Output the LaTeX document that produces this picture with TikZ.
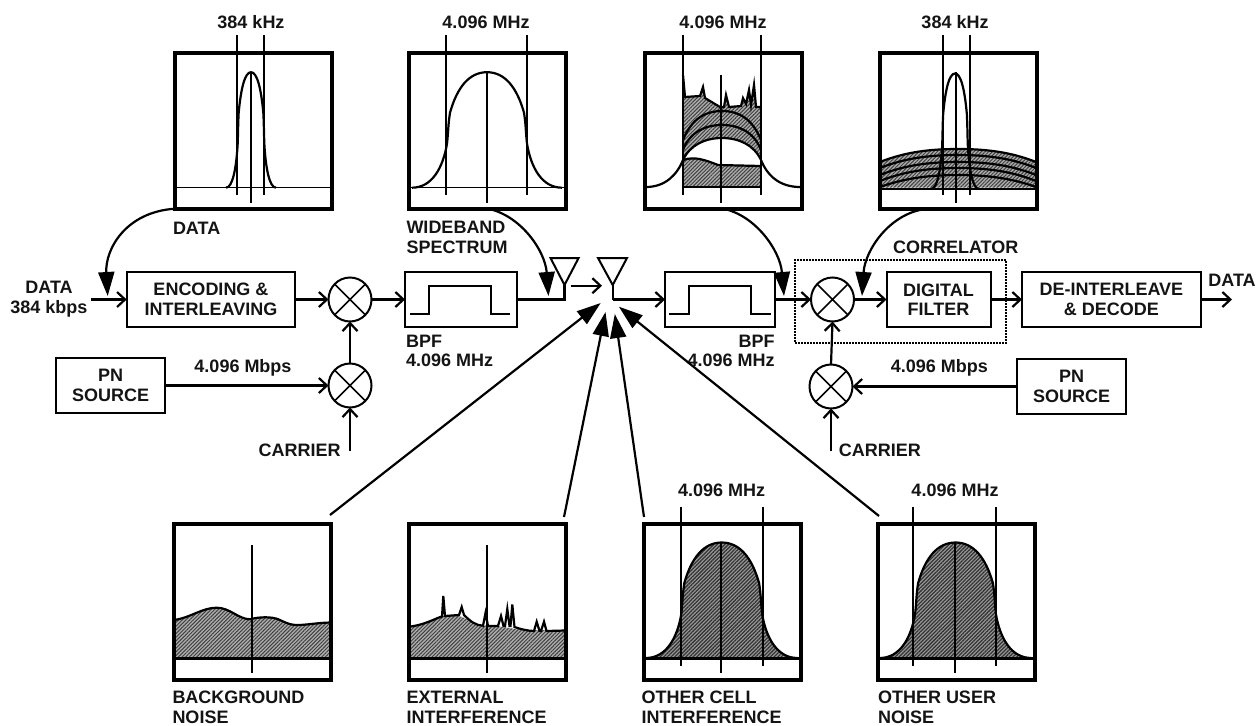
\documentclass[tikz,border=0pt]{standalone}
\usepackage{fontspec}
\setmainfont{Liberation Sans}
\usetikzlibrary{arrows.meta,shapes.geometric,calc,patterns.meta}
\definecolor{noisegray}{gray}{0.68}
\definecolor{densegray}{gray}{0.60}
\newcommand{\bellcurve}{(-75,0) .. controls (-55,0) and (-44,-20) .. (-40,-44)
      .. controls (-38.5,-58) and (-39,-62) .. (-37,-75)
      .. controls (-30,-100) and (-18,-115.5) .. (0,-115.5)
      .. controls (18,-115.5) and (30,-100) .. (37,-75)
      .. controls (39,-62) and (38.5,-58) .. (40,-44)
      .. controls (44,-20) and (55,0) .. (75,0)}
\tikzset{
  x=1pt,y=-1pt,
  lbl/.style={font=\fontsize{18}{19.5}\selectfont\bfseries,inner sep=0pt,outer sep=0pt,text=black!92},
  lblw/.style={lbl,align=left,anchor=west},
  lble/.style={lbl,align=right,anchor=east},
  lblc/.style={lbl,align=center,anchor=center},
  panel/.style={draw,line width=4pt,minimum width=157pt,minimum height=156pt,inner sep=0pt,outer sep=0pt},
  block/.style={draw,line width=2pt,inner sep=0pt,outer sep=0pt,minimum height=55pt},
  mixer/.style={draw,ellipse,line width=2pt,minimum width=43pt,minimum height=44pt,inner sep=0pt,outer sep=0pt},
  crossing/.style={line width=1.7pt},
  wire/.style={line width=2.2pt},
  thin arrow/.style={wire,-{Straight Barb[length=8pt,width=15pt,line width=2.2pt]}},
  big arrow/.style={wire,-{Triangle[length=24pt,width=16pt]}},
  fineline/.style={line width=1.5pt},
  midline/.style={line width=2pt},
  curve/.style={line width=2.2pt},
  hatchlight/.style={preaction={fill=noisegray},pattern={Lines[angle=45,distance=2.6pt,line width=1pt]},pattern color=black!75},
  hatchdark/.style={preaction={fill=densegray},pattern={Lines[angle=45,distance=2.6pt,line width=1.25pt]},pattern color=black!80},
}
\begin{document}
\begin{tikzpicture}
\useasboundingbox (0,0) rectangle (1257,725);

% ---------- fills under the panel frames ----------
% panel 3 hatched region
\path[hatchlight] (683,75) -- (685,97) -- (700,96) -- (703,87) -- (705,98) -- (720,107) -- (724,107) -- (726,95) -- (729,107) -- (741,106) -- (743,98) -- (746,104) -- (749,90) -- (751,105) -- (754,85) -- (756,107) -- (761,107)
  -- (761,160) .. controls (754,145) and (739,138) .. (722,138) .. controls (705,138) and (690,145) .. (683,160) -- cycle;
\path[hatchlight] (683,160) .. controls (695,156) and (705,160) .. (718,165) -- (761,166) -- (761,187) -- (683,187) -- cycle;
% panel 4 hatched region
\path[hatchlight] (880,187.5) -- (880,162) .. controls (905,152) and (930,149) .. (958,149) .. controls (986,149) and (1011,152) .. (1036,162) -- (1036,187.5) -- cycle;
% background noise
\path[hatchlight] (174,658) -- (174,620) .. controls (190,618) and (202,607.7) .. (216.7,607.7) .. controls (230,607.7) and (238,619) .. (250,619.3) .. controls (258,617) and (272,616) .. (280,620) .. controls (288,624) and (292,625) .. (297,625) .. controls (307,625) and (315,623) .. (330,622.5) -- (330,658) -- cycle;
% external interference
\path[hatchlight] (409,658) -- (409,626.7) .. controls (425,625) and (437,615) .. (451.7,615) .. controls (465,615) and (472,625) .. (483,625.7) .. controls (500,625) and (515,630) .. (527,630) -- (565,630.5) -- (565,658) -- cycle;
% other cell, other user
\path[hatchdark,shift={(721.7,658)},xscale=1.01] \bellcurve -- cycle;
\path[hatchdark,shift={(955.5,658)},xscale=1.01] \bellcurve -- cycle;

% ---------- panels ----------
\node[panel] (pdata) at (253.5,130.7) {};
\node[panel] (pwide) at (487.7,130.7) {};
\node[panel] (pmix) at (723,130.7) {};
\node[panel] (pcorr) at (958,130.7) {};
\node[panel] (pback) at (252,601.5) {};
\node[panel] (pext) at (487,601.5) {};
\node[panel] (pcell) at (722,601.5) {};
\node[panel] (puser) at (956.5,601.5) {};

% panel 1: data
\draw[fineline] (175,187.7) -- (332,187.7);
\draw[curve,shift={(251,187.7)},xscale=0.333] \bellcurve;
\draw[midline] (236.7,35) -- (236.7,195) (264.4,35) -- (264.4,195) (251,72) -- (251,203);
% panel 2: wideband spectrum
\draw[fineline] (409,187.7) -- (566,187.7);
\draw[curve,shift={(487,187.7)}] \bellcurve;
\draw[midline] (446.4,35) -- (446.4,195) (526.8,35) -- (526.8,195) (486.6,72) -- (486.6,203);
% panel 3: received spectrum
\draw[curve] (683,75) -- (685,97) -- (700,96) -- (703,87) -- (705,98) -- (720,107) -- (724,107) -- (726,95) -- (729,107) -- (741,106) -- (743,98) -- (746,104) -- (749,90) -- (751,105) -- (754,85) -- (756,107) -- (761,107);
\draw[curve] (683,160) .. controls (695,156) and (705,160) .. (718,165) -- (761,166);
\draw[curve] (646,187) .. controls (665,187) and (677,175) .. (683,160) .. controls (690,145) and (705,138) .. (722,138) .. controls (739,138) and (754,145) .. (761,160) .. controls (767,175) and (779,187) .. (800,187);
\draw[curve] (683,150) .. controls (690,132) and (705,125) .. (722,125) .. controls (739,125) and (754,132) .. (761,150);
\draw[curve] (683,140) .. controls (692,118) and (706,111) .. (722,111) .. controls (738,111) and (752,118) .. (761,140);
\draw[midline] (682.8,35) -- (682.8,195) (760.8,35) -- (760.8,195) (721.2,75) -- (721.2,203) (683,187) -- (761,187);
% panel 4: after correlator
\draw[curve] (880,162) .. controls (905,152) and (930,149) .. (958,149) .. controls (986,149) and (1011,152) .. (1036,162);
\draw[curve] (880,168) .. controls (905,158) and (930,155) .. (958,155) .. controls (986,155) and (1011,158) .. (1036,168);
\draw[curve] (880,175) .. controls (905,165) and (930,162) .. (958,162) .. controls (986,162) and (1011,165) .. (1036,175);
\draw[curve] (880,181) .. controls (905,171) and (930,168) .. (958,168) .. controls (986,168) and (1011,171) .. (1036,181);
\draw[curve] (880,187) .. controls (905,178) and (930,175) .. (958,175) .. controls (986,175) and (1011,178) .. (1036,187);
\draw[midline] (880,189) -- (1036,189);
\draw[curve,shift={(955,189)},xscale=0.32] \bellcurve;
\draw[midline] (942.8,35) -- (942.8,195) (970,35) -- (970,195) (955.5,72) -- (955.5,203);

% panel 5: background noise
\draw[curve] (174,620) .. controls (190,618) and (202,607.7) .. (216.7,607.7) .. controls (230,607.7) and (238,619) .. (250,619.3) .. controls (258,617) and (272,616) .. (280,620) .. controls (288,624) and (292,625) .. (297,625) .. controls (307,625) and (315,623) .. (330,622.5);
\draw[midline,line width=2.6pt] (174,658.5) -- (330,658.5);
\draw[midline] (251.7,545) -- (251.7,673);
% panel 6: external interference
\draw[curve] (409,626.7) .. controls (425,625) and (436,618) .. (442,616.5) -- (443.3,596) -- (445,616) -- (459,615) -- (461.7,607) -- (464,615) .. controls (470,621) and (476,625.7) .. (483,625.7) -- (485.5,613) -- (488,626) -- (498,626) -- (501,616) -- (503.5,626) -- (505,626) -- (507.3,609) -- (509.5,626) -- (510.5,626) -- (512.3,604.5) -- (514.5,627) .. controls (520,629) and (528,631) .. (534,631) -- (536.7,621.7) -- (539.5,631) -- (541,631) -- (544,621.7) -- (546.5,631) -- (565,630.5);
\draw[midline,line width=2.6pt] (409,658.5) -- (565,658.5);
\draw[midline] (487,545) -- (487,673);
% panel 7: other cell interference
\draw[curve,shift={(721.7,658)},xscale=1.01] \bellcurve;
\draw[midline,line width=2.6pt] (644,658.5) -- (800,658.5);
\draw[midline] (680.7,507) -- (680.7,666) (763,507) -- (763,666) (721,543) -- (721,673);
% panel 8: other user noise
\draw[curve,shift={(955.5,658)},xscale=1.01] \bellcurve;
\draw[midline,line width=2.6pt] (879,658.5) -- (1034,658.5);
\draw[midline] (913.3,507) -- (913.3,666) (996,507) -- (996,666) (955,543) -- (955,673);

% ---------- panel labels ----------
\node[lblc] (t1) at (251,22) {384 kHz};
\node[lblc] (t2) at (486,22) {4.096 MHz};
\node[lblc] (t3) at (723,22) {4.096 MHz};
\node[lblc] (t4) at (955,22) {384 kHz};
\node[lblw] (t5) at (173,228) {DATA};
\node[lblw] (t6) at (406.5,237.5) {WIDEBAND\\SPECTRUM};
\node[lblw] (t7) at (893,247) {CORRELATOR};
\node[lblc] (t8) at (721.7,490.7) {4.096 MHz};
\node[lblc] (t9) at (955,490.7) {4.096 MHz};
\node[lblw] (t10) at (172.5,707.5) {BACKGROUND\\NOISE};
\node[lblw] (t11) at (406.5,707.5) {EXTERNAL\\INTERFERENCE};
\node[lblw] (t12) at (641.7,707.5) {OTHER CELL\\INTERFERENCE};
\node[lblw] (t13) at (878,707.5) {OTHER USER\\NOISE};

% ---------- transmit chain ----------
\node[lblc] (datain) at (49,299) {DATA\\384 kbps};
\node[block,minimum width=168.7pt,lblc,draw,line width=2pt,font=\fontsize{18}{19.5}\selectfont\bfseries] (enc) at (211,299.5) {ENCODING \&\\INTERLEAVING};
\node[mixer] (m1) at (350,299.5) {};
\node[mixer] (m2) at (350,385.5) {};
\node[block,minimum width=109.5pt,lblc,draw,line width=2pt] (pn1) at (110.7,385.5) {PN\\SOURCE};
\node[block,minimum width=112pt] (bpf1) at (461,299.5) {};
\node[lblw] (t14) at (406,351) {BPF\\4.096 MHz};
\node[lblc] (t15) at (243,367.7) {4.096 Mbps};
\node[lble] (t16) at (340.7,450) {CARRIER};
\coordinate (c1) at (350,451);
\coordinate (datafrom) at (91,299.5);

% ---------- receive chain ----------
\node[block,minimum width=110pt] (bpf2) at (720,299.5) {};
\node[lble] (t17) at (774.7,351) {BPF\\4.096 MHz};
\node[mixer] (m3) at (832.5,299.5) {};
\node[mixer] (m4) at (831,386.5) {};
\node[block,minimum width=104pt,lblc,draw,line width=2pt] (filt) at (938.5,299.5) {DIGITAL\\FILTER};
\node[block,minimum width=178.8pt,lblc,draw,line width=2pt] (deint) at (1111.4,299.5) {DE-INTERLEAVE\\\& DECODE};
\node[block,minimum width=109pt,lblc,draw,line width=2pt] (pn2) at (1071.5,386.5) {PN\\SOURCE};
\node[lblc] (t18) at (939.4,368) {4.096 Mbps};
\node[lblw] (t19) at (838.8,450) {CARRIER};
\node[lblc] (t20) at (1232,280) {DATA};
\coordinate (c2) at (831,451);
\coordinate (dataout) at (1232,299.5);
\node[draw,densely dotted,line width=2pt,inner sep=0pt,minimum width=211pt,minimum height=82.7pt] (corr) at (900.5,301.3) {};

% crosses in the mixers
\foreach \m in {m1,m2,m3,m4} \draw[crossing] (\m.45) -- (\m.225) (\m.135) -- (\m.315);

% BPF pulses
\draw[midline] (410,314) -- (429,314) -- (429,286) -- (491,286) -- (491,314) -- (510,314);
\draw[midline] (669,314) -- (688.8,314) -- (688.8,286) -- (750.8,286) -- (750.8,314) -- (770.5,314);

% antennas
\coordinate (txfoot) at (564.5,299.5);
\coordinate (rxfoot) at (612.7,299.5);
\coordinate (txapex) at (564.5,285);
\coordinate (rxapex) at (612.7,285);
\draw[midline] (550.5,258) -- (578.6,258) -- (txapex) -- cycle;
\draw[midline] (598,258) -- (627,258) -- (rxapex) -- cycle;
\draw[wire] (bpf1.east) -- (txfoot) -- (txapex);
\draw[wire] (rxapex) -- (rxfoot);
\coordinate (txout) at (570.6,285.7);
\coordinate (rxin) at (602,285.7);

% ---------- small arrows ----------
\draw[thin arrow] (datafrom) -- (enc.west);
\draw[thin arrow] (enc.east) -- (m1.west);
\draw[thin arrow] (m1.east) -- (bpf1.west);
\draw[thin arrow] (m2.north) -- (m1.south);
\draw[thin arrow] (pn1.east) -- (m2.west);
\draw[thin arrow] (c1) -- (m2.south);
\draw[thin arrow] (txout) -- (rxin);
\draw[thin arrow] (rxfoot) -- (bpf2.west);
\draw[thin arrow] (bpf2.east) -- (m3.west);
\draw[thin arrow] (m3.east) -- (filt.west);
\draw[thin arrow] (filt.east) -- (deint.west);
\draw[thin arrow] (deint.east) -- (dataout);
\draw[thin arrow] (m4.north) -- (m3.south);
\draw[thin arrow] (pn2.west) -- (m4.east);
\draw[thin arrow] (c2) -- (m4.south);

% ---------- big arrows ----------
\coordinate (tipa) at (107.7,296);
\coordinate (tipb) at (548.5,296);
\coordinate (tipc) at (784,296);
\coordinate (tipd) at (862,296);
\coordinate (taild) at (926,209);
\draw[big arrow] (pdata.south west) .. controls (125,212) and (105,250) .. (tipa);
\draw[big arrow] (pwide.south) .. controls (520,215) and (545,250) .. (tipb);
\draw[big arrow] (pmix.south) .. controls (755,215) and (780,250) .. (tipc);
\draw[big arrow] (taild) .. controls (890,213) and (865,250) .. (tipd);

\coordinate (tipe) at (600.7,303);
\coordinate (tipf) at (605.5,312);
\coordinate (tipg) at (614.8,314);
\coordinate (tiph) at (618.9,306.7);
\coordinate (taile) at (330,515);
\coordinate (tailf) at (564,517);
\coordinate (tailg) at (644,517);
\coordinate (tailh) at (879,516);
\draw[big arrow] (taile) -- (tipe);
\draw[big arrow] (tailf) -- (tipf);
\draw[big arrow] (tailg) -- (tipg);
\draw[big arrow] (tailh) -- (tiph);
\end{tikzpicture}
\end{document}
